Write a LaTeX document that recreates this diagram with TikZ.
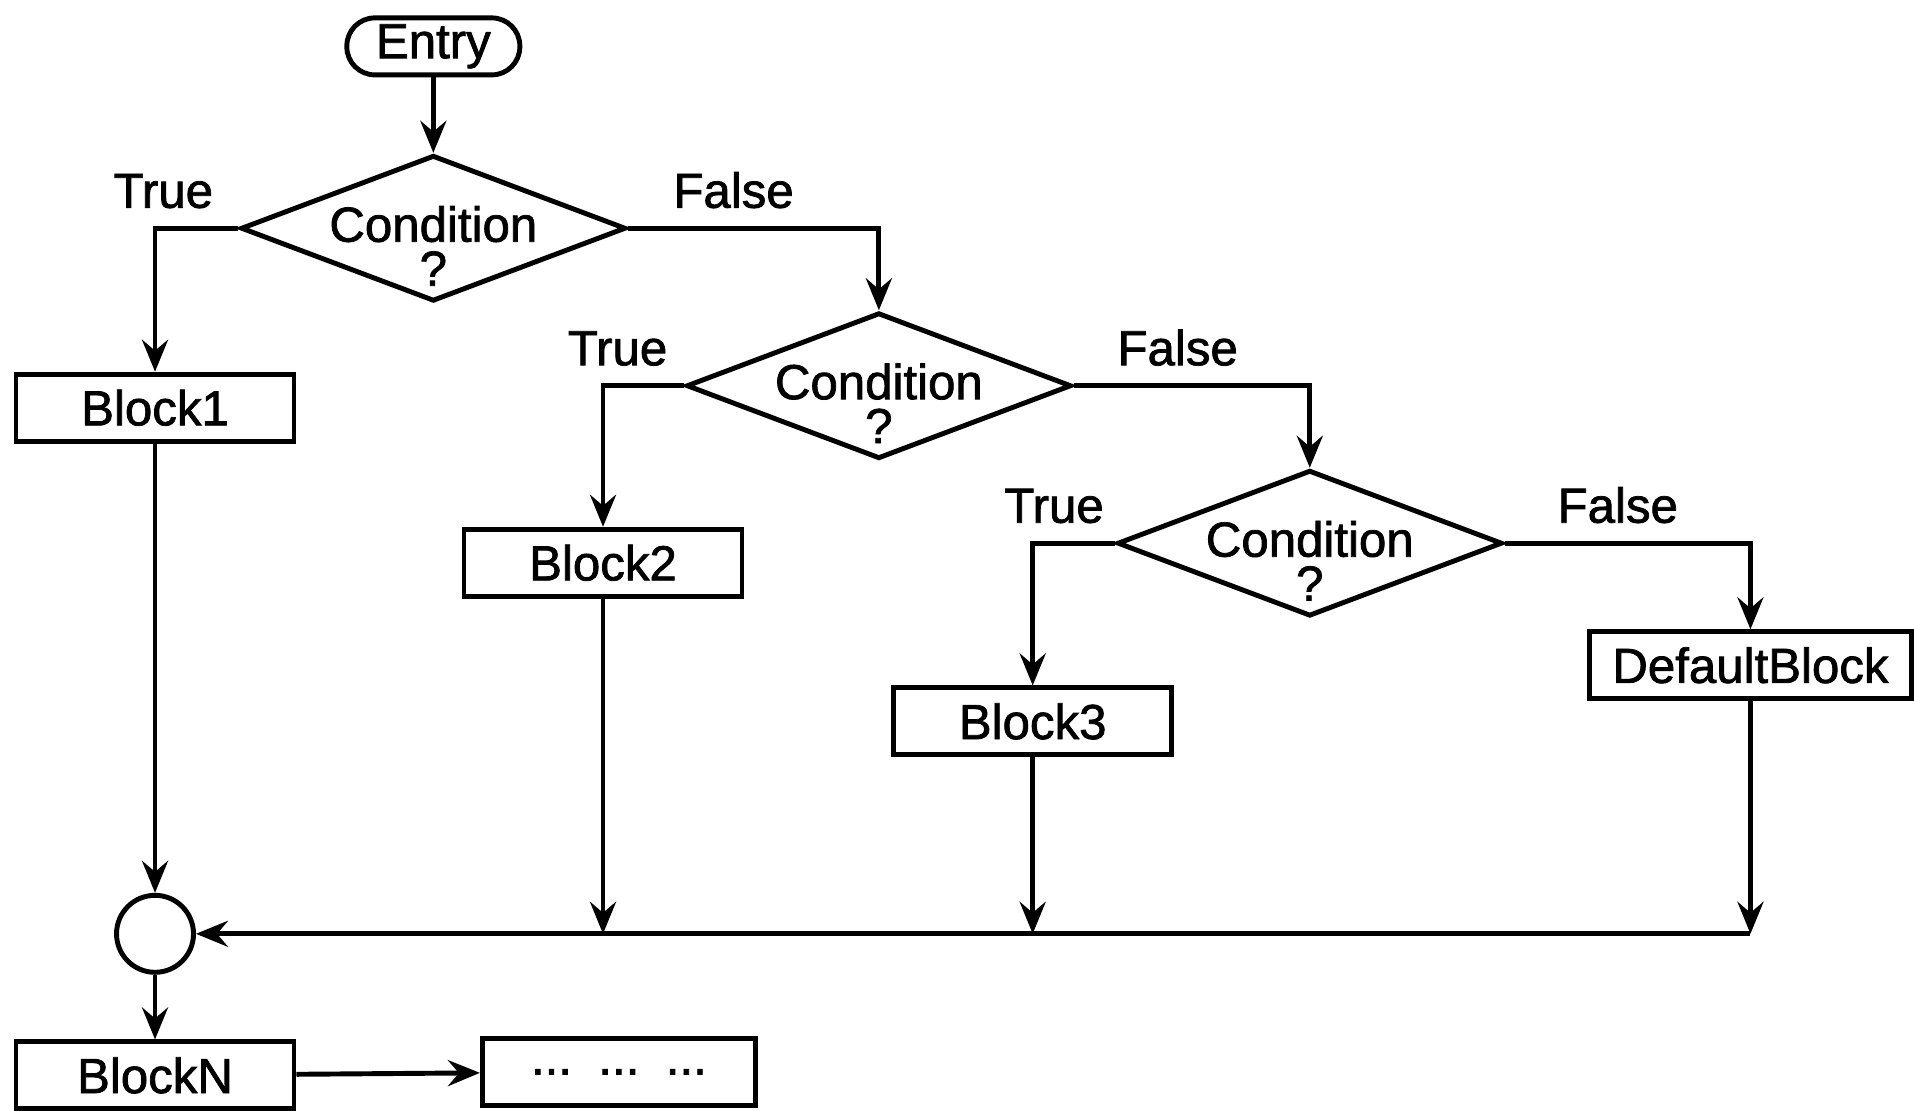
\documentclass[tikz,border=0pt]{standalone}
\usepackage{fontspec}
\setmainfont{Liberation Sans}[RawFeature={embolden=1.5}]
\usetikzlibrary{arrows.meta,positioning,shapes.geometric}
\tikzset{
  block/.style={draw, line width=1.4pt, minimum width=2.78cm, minimum height=0.67cm,
    inner sep=2pt, font=\fontsize{14}{16}\selectfont},
  decision/.style={draw, diamond, line width=1.4pt, inner sep=0pt,
    minimum width=3.85cm, minimum height=1.46cm},
  condtext/.style={align=center, yshift=-5pt, font=\fontsize{14}{12.5}\selectfont},
  terminal/.style={draw, line width=1.4pt, rounded corners=2.8mm, minimum width=1.73cm,
    minimum height=0.57cm, inner sep=1pt, font=\fontsize{14}{16}\selectfont},
  joint/.style={draw, circle, line width=1.4pt, minimum size=0.77cm, inner sep=0pt},
  wire/.style={-{Stealth[length=3.2mm, width=2.6mm, inset=1.1mm]}, line width=1.4pt},
  branch/.style={font=\fontsize{14}{16}\selectfont, inner sep=1pt, above=4pt}
}

\begin{document}
\begin{tikzpicture}[x=0.12207mm, y=-0.12207mm]
  \useasboundingbox (0,0) rectangle (1568,910);
  % decisions
  \node[terminal] (entry) at (355,38) {Entry};
  \node[decision, label={[condtext]center:Condition\\?}] (d1) at (355,187) {};
  \node[decision, label={[condtext]center:Condition\\?}] (d2) at (720,316) {};
  \node[decision, label={[condtext]center:Condition\\?}] (d3) at (1073,445) {};
  % blocks
  \node[block] (b1) at (127,334) {Block1};
  \node[block] (b2) at (494,461) {Block2};
  \node[block] (b3) at (846,591) {Block3};
  \node[block, minimum width=3.22cm] (dflt) at (1434,545) {DefaultBlock};
  \node[joint] (join) at (127,765) {};
  \node[block] (bN) at (127,881) {BlockN};
  \node[block, minimum width=2.73cm] (more) at (507,878) {...\hspace{7.5pt}...\hspace{7.5pt}...};

  \draw[wire] (entry) -- (d1);
  \draw[wire] (d1.west) -| node[branch, pos=0.45] {True} (b1);
  \draw[wire] (d1.east) -| node[branch, pos=0.21] {False} (d2);
  \draw[wire] (d2.west) -| node[branch, pos=0.41] {True} (b2);
  \draw[wire] (d2.east) -| node[branch, pos=0.22] {False} (d3);
  \draw[wire] (d3.west) -| node[branch, pos=0.37] {True} (b3);
  \draw[wire] (d3.east) -| node[branch, pos=0.23] {False} (dflt);
  % merge
  \draw[wire] (b1) -- (join);
  \draw[wire] (b2) -- (b2 |- join);
  \draw[wire] (b3) -- (b3 |- join);
  \draw[wire] (dflt) -- (dflt |- join);
  \draw[wire] (dflt |- join) -- (join);
  \draw[wire] (join) -- (bN);
  \draw[wire] (bN) -- (more);
\end{tikzpicture}
\end{document}
